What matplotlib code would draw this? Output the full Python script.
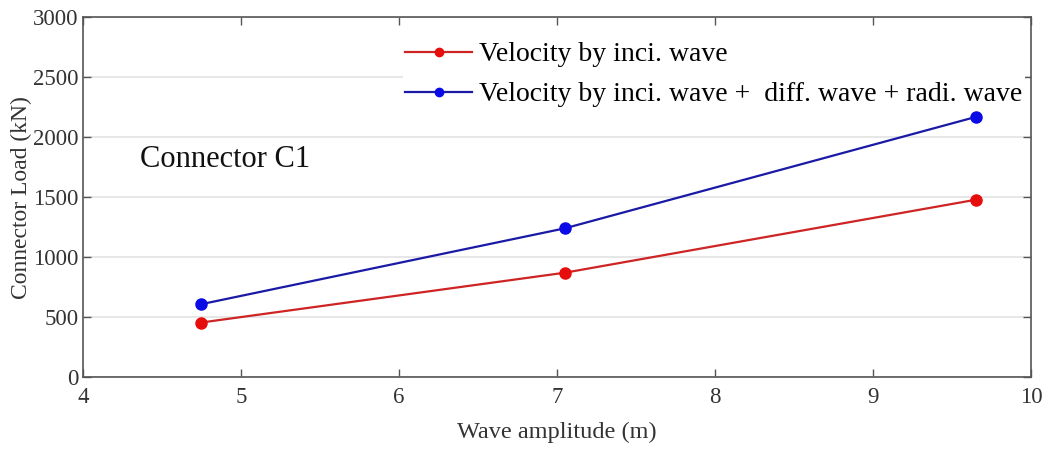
import numpy as np
import matplotlib
matplotlib.use('Agg')
import matplotlib.pyplot as plt

plt.rcParams['font.family'] = ['Liberation Serif', 'DejaVu Serif']

amplitude = [4.75, 7.05, 9.65]
load_inci = [455, 870, 1478]
load_all = [608, 1240, 2168]
labels = ['Velocity by inci. wave',
          'Velocity by inci. wave +  diff. wave + radi. wave']

fig = plt.figure(figsize=(10.5, 4.5), dpi=100)
ax = fig.add_axes([0.079, 0.162, 0.903, 0.8])

ax.plot(amplitude, load_inci, '-o', color='#cf2424', mfc='#e60d0d', mec='#e60d0d',
        lw=1.6, ms=8, label=labels[0])
ax.plot(amplitude, load_all, '-o', color='#1a1aa6', mfc='#0a0ae6', mec='#0a0ae6',
        lw=1.6, ms=8, label=labels[1])

ax.set_xlim(4, 10)
ax.set_ylim(0, 3000)
ax.set_xticks(np.arange(4, 11, 1))
ax.set_yticks(np.arange(0, 3001, 500))
ax.yaxis.grid(True, color='#e3e3e3', lw=1.2)
ax.set_axisbelow(True)
ax.tick_params(direction='in', top=True, right=True, length=6, width=1,
               color='#555555', labelsize=16.5, labelcolor='#333333', pad=3)
ax.tick_params(axis='x', pad=7)
for s in ax.spines.values():
    s.set_color('#555555')
    s.set_linewidth(1.2)

ax.set_xlabel('Wave amplitude (m)', fontsize=17.5, color='#333333', labelpad=10)
ax.set_ylabel('Connector Load (kN)', fontsize=17, color='#333333', labelpad=1)

ax.text(0.06, 0.605, 'Connector C1', transform=ax.transAxes, fontsize=22,
        color='#111111', va='center', ha='left')

leg = ax.legend(loc='upper left', bbox_to_anchor=(0.3225, 0.977), fontsize=20,
                frameon=True, framealpha=1, edgecolor='none', handlelength=2.4,
                handletextpad=0.25, labelspacing=0.52, borderpad=0.1, numpoints=1,
                markerscale=0.75)
leg.get_frame().set_linewidth(0)

fig.savefig('out.png', dpi=100)
